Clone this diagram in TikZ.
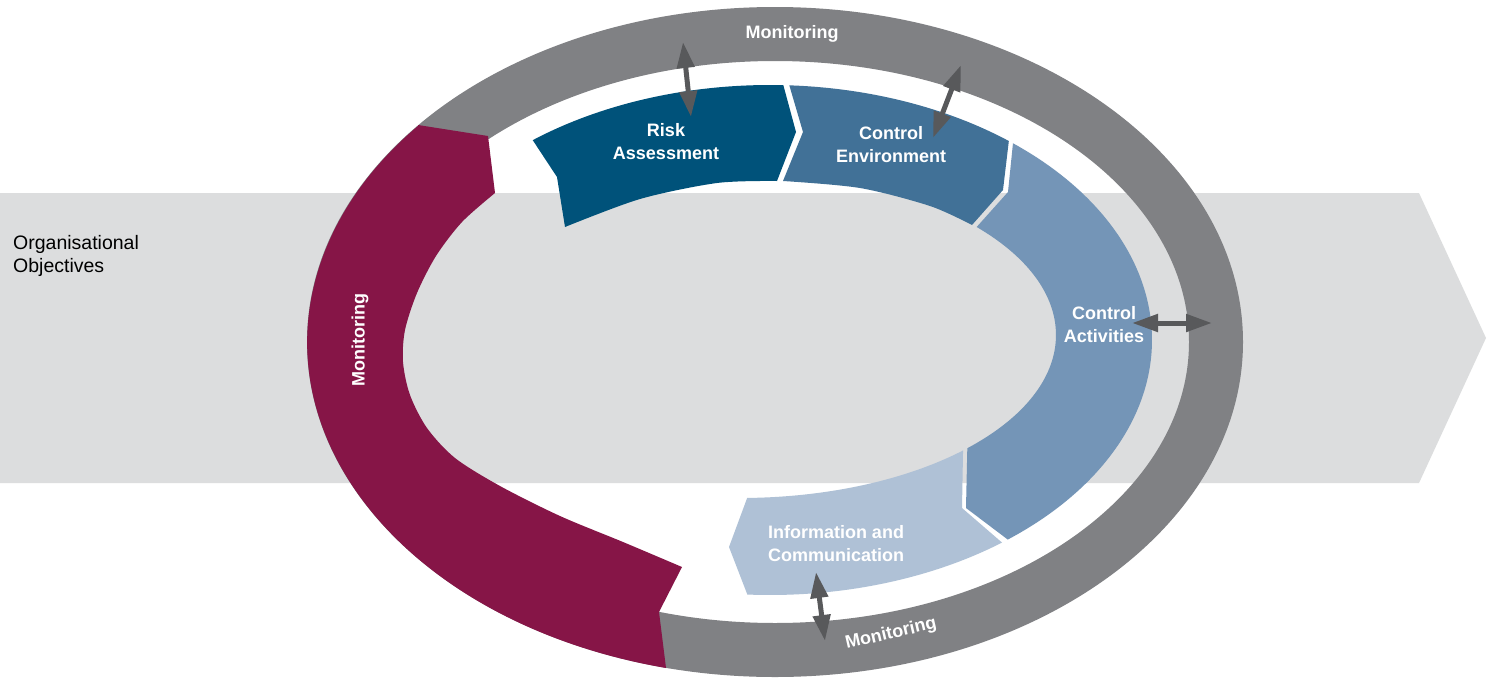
\documentclass[tikz,border=0pt]{standalone}
\usepackage{fontspec}
\setmainfont{Liberation Sans}
\usetikzlibrary{arrows.meta}
\definecolor{bandgray}{HTML}{DCDDDE}
\definecolor{ringgray}{HTML}{808184}
\definecolor{maroonc}{HTML}{861547}
\definecolor{rac}{HTML}{00527A}
\definecolor{cec}{HTML}{417197}
\definecolor{cac}{HTML}{7495B7}
\definecolor{icc}{HTML}{AFC1D6}
\definecolor{arrc}{HTML}{58595B}
\begin{document}
\begin{tikzpicture}[x=1pt,y=1pt,yscale=-1,
  lbl/.style={text=white,font=\bfseries\fontsize{18}{23}\selectfont,align=center,inner sep=0pt},
  segout/.style={x radius=382,y radius=255},
  seghole/.style={x radius=316,y radius=163},
  biarrow/.style={draw=arrc,line width=5pt,
    {Triangle[length=26pt,width=17pt]}-{Triangle[length=26pt,width=17pt]}}]
\fill[white] (0,0) rectangle (1489,683);
\useasboundingbox (0,0) rectangle (1489,683);
% background arrow
\fill[bandgray] (0,193) -- (1419,193) -- (1486,338) -- (1419,483) -- (0,483) -- cycle;
% monitoring ring
\fill[ringgray,even odd rule] (775,342) ellipse [x radius=468,y radius=335]
  (775,342) ellipse [x radius=414,y radius=281];
% maroon monitoring segment
\fill[maroonc] (418,125) -- (488,136) -- plot[smooth] coordinates
  {(495,193) (462,222) (436,256) (417,293) (405,330) (403,362) (410,395) (427,428) (455,458) (500,486) (560,516) (623,542) (682,567)}
  -- (659,612) -- (666,668) arc[start angle=103.5,end angle=220.3,x radius=468,y radius=335] -- cycle;
% Risk Assessment
\fill[rac] ([shift={(770,340)}]231.6:382 and 255) arc[segout,start angle=231.6,end angle=272]
  -- (796,132) -- plot[smooth] coordinates {(777,181) (717,183) (640,199) (565,227)}
  -- (557,177) -- cycle;
% Control Environment
\fill[cec] ([shift={(770,340)}]272.9:382 and 255) arc[segout,start angle=272.9,end angle=308.7]
  -- (1003,190) -- plot[smooth] coordinates {(972,225) (930,206) (860,188) (783,181)}
  -- (803,132) -- cycle;
% Control Activities
\fill[cac] ([shift={(770,340)}]-50.5:382 and 255) -- (1008,192)
  -- ([shift={(740,335)}]-41.5:316 and 163) arc[seghole,start angle=-41.5,end angle=44]
  -- (966,508) -- ([shift={(770,340)}]51.5:382 and 255) arc[segout,start angle=51.5,end angle=-50.5] -- cycle;
% Information and Communication
\fill[icc] ([shift={(740,335)}]45.1:316 and 163) -- (962,508)
  -- ([shift={(770,340)}]52.6:382 and 255) arc[segout,start angle=52.6,end angle=93.4]
  -- (729,547) -- ([shift={(740,335)}]88.7:316 and 163) arc[seghole,start angle=88.7,end angle=45.1] -- cycle;
% labels
\node[lbl] (mtop) at (792,34) {Monitoring};
\node[lbl,rotate=90] (mleft) at (360,340) {Monitoring};
\node[lbl,rotate=13] (mbot) at (891,634) {Monitoring};
\node[lbl] (ra) at (666,142) {Risk\\Assessment};
\node[lbl] (ce) at (891,145) {Control\\Environment};
\node[lbl] (ca) at (1104,325) {Control\\Activities};
\node[lbl] (ic) at (836,544) {Information and\\Communication};
\node[anchor=north west,align=left,inner sep=0pt,font=\fontsize{19.5}{23}\selectfont] (org) at (13,235) {Organisational\\Objectives};
% double arrows
\coordinate (raT) at (683,42); \coordinate (raB) at (691,117);
\coordinate (ceT) at (961,65); \coordinate (ceB) at (933,138);
\coordinate (caL) at (1132,323); \coordinate (caR) at (1212,323);
\coordinate (icT) at (816,572); \coordinate (icB) at (825,641);
\draw[biarrow] (raT) -- (raB);
\draw[biarrow] (ceT) -- (ceB);
\draw[biarrow] (caL) -- (caR);
\draw[biarrow] (icT) -- (icB);
\end{tikzpicture}
\end{document}
